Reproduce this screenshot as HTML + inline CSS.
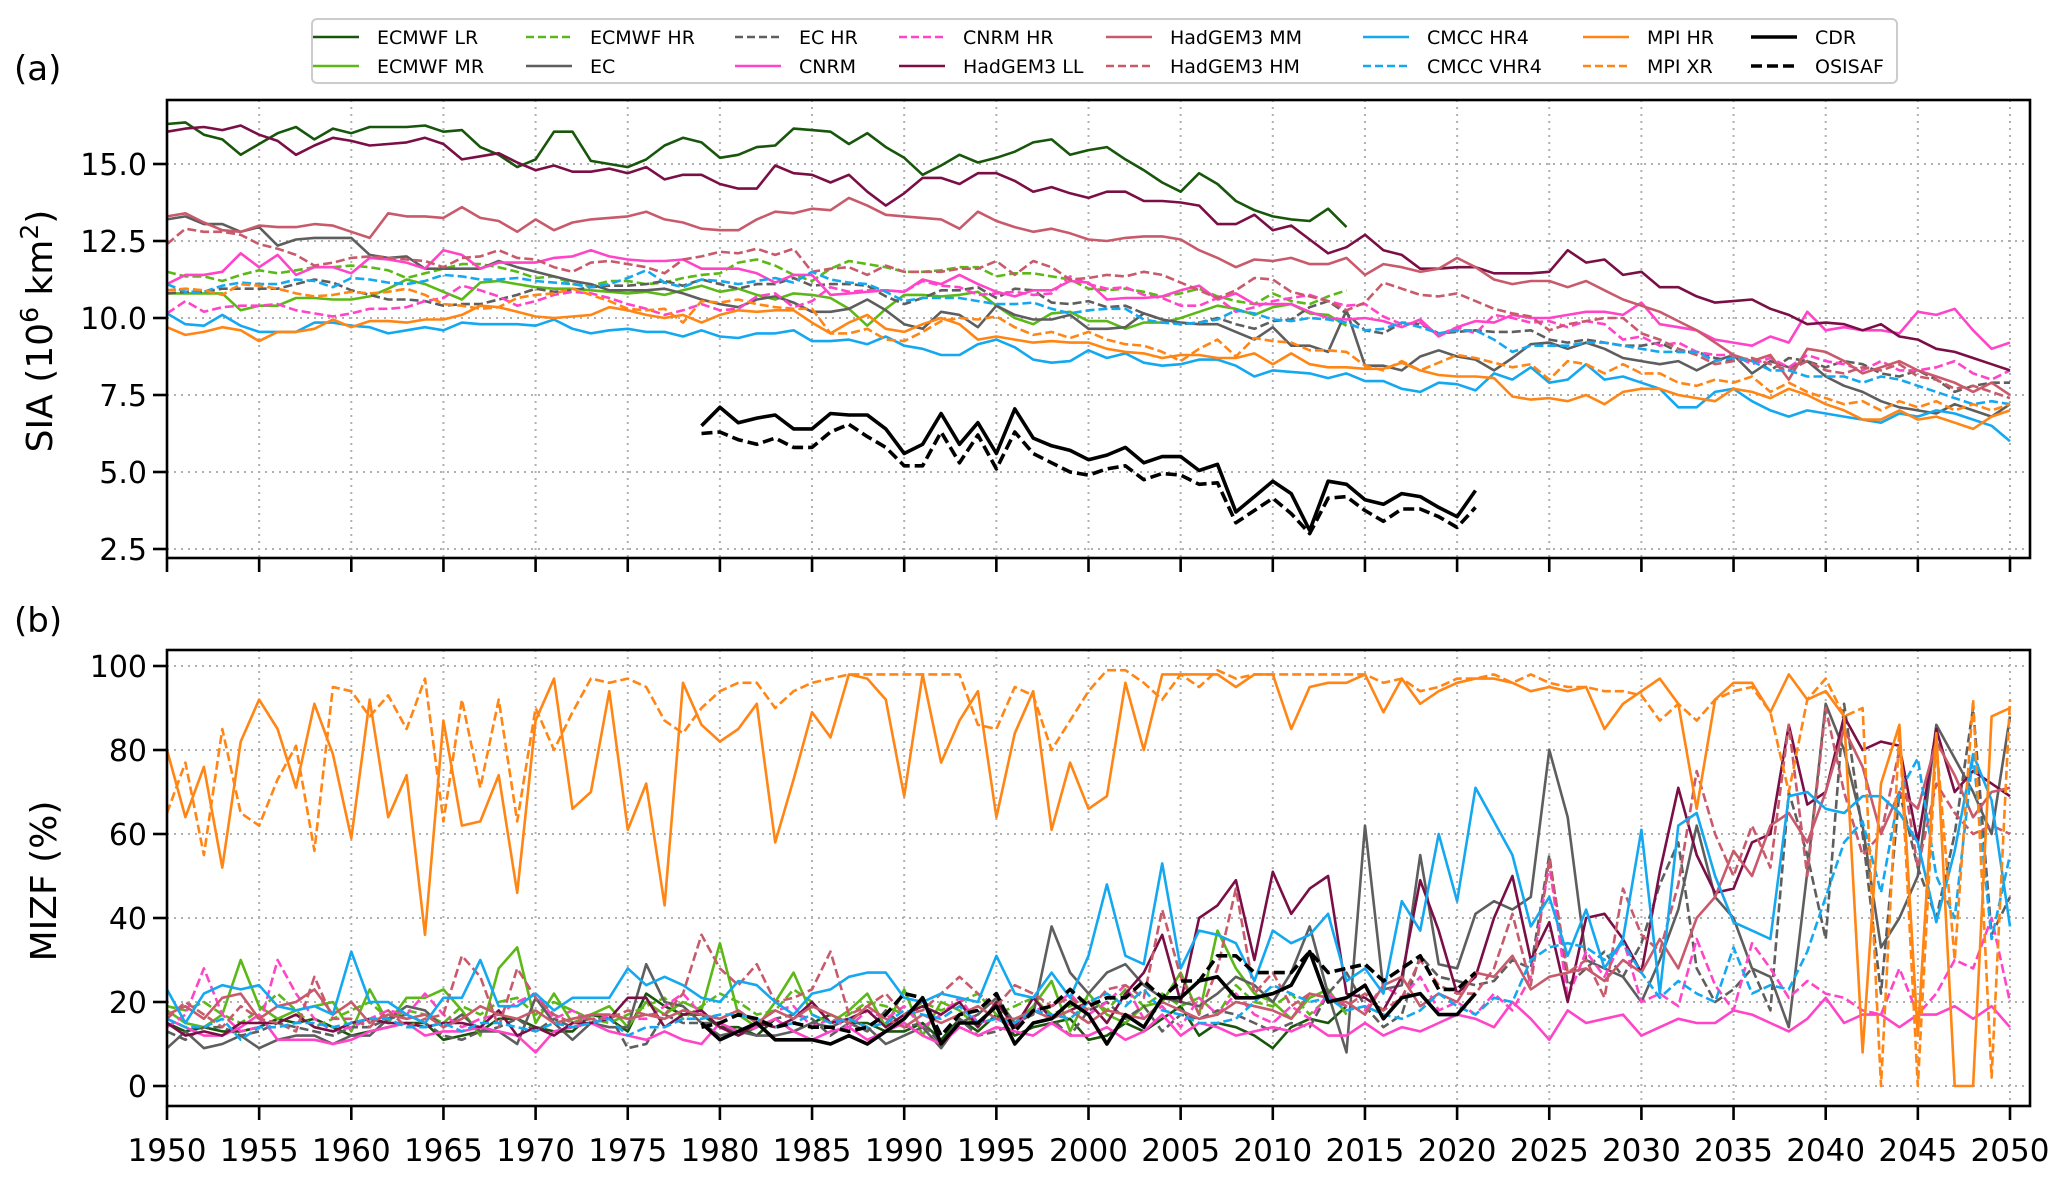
<!DOCTYPE html>
<html><head><meta charset="utf-8"><style>
html,body{margin:0;padding:0;background:#fff}
svg{display:block;font-family:"DejaVu Sans","Liberation Sans",sans-serif}
</style></head><body>
<svg id="chart" width="2067" height="1179" viewBox="0 0 2067 1179" xmlns="http://www.w3.org/2000/svg">
<defs>
<clipPath id="clipA"><rect x="167" y="100" width="1863" height="458"/></clipPath>
<clipPath id="clipB"><rect x="167" y="650" width="1863" height="456"/></clipPath>
</defs>
<g id="gridA"></g>
<g id="gridB"></g>
<g id="linesA" clip-path="url(#clipA)"></g>
<g id="linesB" clip-path="url(#clipB)"></g>
<g id="axes"></g>
<text x="14" y="80" font-size="34">(a)</text>
<text x="14" y="632" font-size="34">(b)</text>
<text transform="translate(52,331) rotate(-90)" text-anchor="middle" font-size="36">SIA (10<tspan dy="-14" font-size="25">6</tspan><tspan dy="14"> km</tspan><tspan dy="-14" font-size="25">2</tspan><tspan dy="14">)</tspan></text>
<text transform="translate(56,881) rotate(-90)" text-anchor="middle" font-size="36">MIZF (%)</text>
<g id="legend"></g>
</svg>
<script>
// ---------- data ----------
const years0 = 1950;
const xTicks = [1950,1955,1960,1965,1970,1975,1980,1985,1990,1995,2000,2005,2010,2015,2020,2025,2030,2035,2040,2045,2050];
const yTicksA = [2.5,5.0,7.5,10.0,12.5,15.0];
const yTicksB = [0,20,40,60,80,100];

const seriesNames = ["ECMWF LR","ECMWF MR","ECMWF HR","EC","EC HR","CNRM","CNRM HR","HadGEM3 LL","HadGEM3 MM","HadGEM3 HM","CMCC HR4","CMCC VHR4","MPI HR","MPI XR","CDR","OSISAF"];
const seriesStart = [1950,1950,1950,1950,1950,1950,1950,1950,1950,1950,1950,1950,1950,1950,1979,1979];

const siaEcmwfLR = [16.3,16.35,15.95,15.8,15.3,15.65,16.0,16.2,15.8,16.15,16.0,16.2,16.2,16.2,16.25,16.05,16.1,15.55,15.3,14.9,15.15,16.05,16.05,15.1,15.0,14.9,15.15,15.6,15.85,15.7,15.2,15.3,15.55,15.6,16.15,16.1,16.05,15.65,16.0,15.55,15.2,14.65,14.95,15.3,15.05,15.2,15.4,15.7,15.8,15.3,15.45,15.55,15.15,14.8,14.4,14.1,14.7,14.35,13.8,13.5,13.3,13.2,13.15,13.55,12.95];
const siaEcmwfMR = [10.8,10.8,10.8,10.8,10.25,10.4,10.4,10.65,10.65,10.6,10.6,10.7,10.95,11.25,11.1,10.85,10.6,11.15,11.2,11.1,11.0,10.95,10.95,10.9,10.85,10.8,10.85,10.75,10.9,11.05,10.85,10.95,10.75,10.6,10.8,10.75,10.65,10.3,9.75,10.3,10.75,10.75,10.7,10.75,10.85,10.4,10.0,9.8,10.15,10.2,9.9,9.9,9.65,9.85,9.85,10.0,10.2,10.4,10.3,10.1,10.35,10.45,10.15,10.1,9.75];
const siaEcmwfHR = [11.5,11.35,11.35,11.2,11.4,11.55,11.45,11.55,11.65,11.65,11.7,11.65,11.55,11.3,11.45,11.6,11.75,11.75,11.65,11.5,11.3,11.35,11.1,11.05,11.2,11.2,11.1,11.15,11.3,11.4,11.45,11.8,11.9,11.7,11.4,11.2,11.6,11.85,11.75,11.65,11.5,11.5,11.55,11.65,11.65,11.35,11.45,11.45,11.35,11.25,10.95,10.9,10.95,10.85,10.7,10.8,10.95,10.7,10.55,10.45,10.8,10.55,10.45,10.7,10.9];
const siaEC = [13.2,13.3,13.05,13.05,12.8,12.95,12.35,12.55,12.6,12.6,12.6,12.05,11.95,12.0,11.6,11.6,11.6,11.6,11.85,11.65,11.5,11.35,11.2,11.1,10.9,10.9,10.9,10.95,10.8,10.6,10.45,10.35,10.6,10.7,10.5,10.2,10.2,10.3,10.6,10.25,9.8,9.65,10.2,10.1,9.7,10.4,10.1,9.95,9.95,10.1,9.65,9.65,9.7,10.15,9.95,9.85,9.8,9.8,9.55,9.3,9.7,9.1,9.1,8.9,10.25,8.45,8.45,8.3,8.75,8.95,8.75,8.65,8.3,8.7,9.15,9.2,9.0,9.2,9.0,8.7,8.6,8.5,8.6,8.3,8.6,8.8,8.2,8.6,8.4,8.6,8.1,7.8,7.6,7.3,7.1,7.0,6.9,7.2,7.0,6.8,7.2];
const siaEcHR = [10.8,10.85,10.85,10.95,10.95,10.95,10.95,11.1,11.25,11.15,10.9,10.75,10.6,10.6,10.55,10.4,10.45,10.45,10.6,10.75,10.95,10.85,10.9,11.0,11.05,11.05,11.1,11.2,11.05,11.25,11.1,10.95,11.1,11.1,11.3,11.05,11.1,11.1,11.05,10.7,10.45,10.65,10.9,10.9,11.0,10.65,10.95,10.9,10.5,10.45,10.55,10.35,10.4,10.15,9.95,9.8,9.85,10.0,9.8,9.65,9.9,9.95,10.35,10.55,10.15,9.6,9.5,9.85,9.8,9.5,9.55,9.6,9.55,9.55,9.6,9.3,9.2,9.3,9.2,9.1,9.1,9.2,8.9,8.9,8.7,8.6,8.7,8.3,8.7,8.6,8.4,8.6,8.5,8.2,8.1,8.3,8.0,7.6,7.8,7.9,7.9];
const siaCNRM = [11.1,11.4,11.4,11.5,12.1,11.65,12.05,11.4,11.65,11.65,11.45,11.95,11.9,11.8,11.6,12.2,12.05,11.6,11.8,11.8,11.8,11.95,12.0,12.2,12.0,11.9,11.85,11.85,11.9,11.6,11.6,11.6,11.45,11.15,11.4,11.4,10.75,10.8,10.85,10.9,10.85,11.25,11.1,11.4,11.1,10.85,10.7,10.9,10.9,11.2,11.15,10.6,10.65,10.65,10.7,10.9,11.05,10.6,10.8,10.45,10.45,10.45,10.2,10.0,9.95,10.0,9.9,9.7,9.95,9.4,9.7,9.9,9.85,10.1,10.0,10.0,10.1,10.2,10.2,10.1,10.5,9.8,9.7,9.6,9.3,9.2,9.1,9.4,9.2,10.2,9.6,9.7,9.6,9.6,9.5,10.2,10.1,10.3,9.6,9.0,9.2];
const siaCnrmHR = [10.15,10.55,10.2,10.35,10.4,10.4,10.45,10.25,10.15,10.05,10.15,10.3,10.3,10.35,10.55,10.65,11.05,10.9,10.7,10.4,10.55,10.75,10.85,10.8,10.65,10.45,10.3,10.1,10.25,10.45,10.25,10.3,10.7,10.8,10.35,10.55,11.0,10.85,10.9,10.9,10.85,11.2,11.05,11.0,10.75,10.8,10.85,10.75,10.8,11.35,11.1,10.95,11.0,10.75,10.65,10.4,10.4,10.65,10.2,10.35,10.55,10.65,10.75,10.55,10.4,10.45,10.05,9.8,9.85,9.45,9.7,9.5,10.1,10.0,9.85,9.9,9.7,9.9,9.8,9.3,9.4,9.1,9.2,8.9,8.8,8.8,8.5,8.7,8.4,8.8,8.6,8.5,8.3,8.6,8.3,8.3,8.4,8.6,8.2,8.0,8.3];
const siaHadLL = [16.05,16.15,16.2,16.1,16.25,15.95,15.75,15.3,15.6,15.85,15.75,15.6,15.65,15.7,15.85,15.65,15.15,15.25,15.35,15.05,14.8,14.95,14.75,14.75,14.85,14.7,14.9,14.5,14.65,14.65,14.35,14.2,14.2,14.95,14.7,14.65,14.4,14.65,14.1,13.65,14.05,14.55,14.55,14.35,14.7,14.7,14.45,14.1,14.25,14.05,13.9,14.1,14.1,13.8,13.8,13.75,13.65,13.05,13.05,13.35,12.85,13.0,12.55,12.1,12.3,12.7,12.2,12.05,11.6,11.6,11.65,11.65,11.45,11.45,11.45,11.5,12.2,11.8,11.9,11.4,11.5,11.0,11.0,10.7,10.5,10.55,10.6,10.3,10.1,9.8,9.85,9.8,9.6,9.8,9.4,9.3,9.0,8.9,8.7,8.5,8.3];
const siaHadMM = [13.3,13.4,13.1,12.85,12.8,13.0,12.95,12.95,13.05,13.0,12.8,12.6,13.4,13.3,13.3,13.25,13.6,13.25,13.15,12.8,13.2,12.85,13.1,13.2,13.25,13.3,13.45,13.2,13.1,12.9,12.85,12.85,13.2,13.45,13.4,13.55,13.5,13.9,13.65,13.35,13.3,13.25,13.2,12.9,13.45,13.15,12.95,12.8,12.9,12.75,12.55,12.5,12.6,12.65,12.65,12.55,12.2,11.95,11.65,11.9,11.85,11.95,11.75,11.75,11.95,11.4,11.75,11.65,11.5,11.6,11.95,11.65,11.25,11.1,11.2,11.2,11.0,11.2,10.9,10.6,10.4,10.2,9.9,9.6,9.2,8.8,8.6,8.8,8.0,9.0,8.9,8.6,8.2,8.4,8.6,8.3,8.1,7.9,7.6,7.9,7.5];
const siaHadHM = [12.4,12.9,12.8,12.8,12.7,12.4,12.25,12.05,11.7,11.8,11.95,12.0,11.95,11.9,11.85,11.65,11.95,12.0,12.2,11.95,11.9,11.65,11.5,11.8,11.85,11.75,11.65,11.45,11.9,12.0,12.15,12.1,12.25,12.05,12.25,11.5,11.6,11.65,11.4,11.7,11.5,11.5,11.5,11.6,11.6,11.85,11.4,11.85,11.65,11.25,11.3,11.4,11.35,11.5,11.4,11.15,10.9,10.65,10.9,11.3,11.25,10.85,10.7,10.55,10.25,10.5,11.15,10.95,10.75,10.7,10.8,10.55,10.3,10.15,10.05,9.6,9.8,9.9,10.0,10.0,9.5,9.3,9.0,8.8,8.5,8.6,8.7,8.5,8.3,8.6,8.3,8.2,8.4,8.3,8.5,8.1,8.0,7.7,7.8,7.6,7.4];
const siaCmccHR4 = [10.15,9.8,9.75,10.1,9.75,9.55,9.55,9.55,9.85,9.85,9.75,9.7,9.5,9.6,9.7,9.6,9.85,9.8,9.8,9.8,9.75,9.95,9.65,9.5,9.6,9.65,9.55,9.55,9.4,9.6,9.4,9.35,9.5,9.5,9.6,9.25,9.25,9.3,9.15,9.4,9.1,9.0,8.8,8.8,9.15,9.3,9.05,8.65,8.55,8.6,8.95,8.7,8.85,8.55,8.45,8.5,8.65,8.65,8.45,8.1,8.3,8.25,8.2,8.05,8.2,7.95,7.95,7.7,7.6,7.9,7.85,7.65,8.2,8.0,8.4,7.9,8.0,8.5,8.0,8.1,7.9,7.7,7.1,7.1,7.6,7.7,7.3,7.0,6.8,7.0,6.9,6.8,6.7,6.6,6.9,6.8,7.0,6.9,6.7,6.5,6.0];
const siaCmccVHR4 = [11.1,10.85,10.85,11.05,11.15,11.1,11.1,11.25,11.2,11.0,11.3,11.25,11.15,11.1,11.2,11.4,11.35,11.25,11.25,11.3,11.2,11.15,11.1,11.0,11.1,11.3,11.55,11.15,11.0,11.25,11.2,11.1,11.2,11.3,11.15,11.5,11.25,11.15,11.1,10.85,10.55,10.65,10.65,10.65,10.55,10.45,10.45,10.5,10.3,10.15,10.25,10.3,10.3,9.95,9.85,9.8,9.85,9.95,10.25,10.15,9.95,9.9,10.0,9.95,9.85,9.6,9.65,9.85,9.7,9.5,9.6,9.6,9.3,8.9,9.1,9.1,9.1,9.2,9.2,9.1,9.0,8.9,8.9,8.9,8.6,8.7,8.6,8.3,8.3,8.1,8.1,8.1,7.9,8.1,8.0,7.8,7.6,7.4,7.2,7.3,7.2];
const siaMpiHR = [9.7,9.45,9.55,9.7,9.6,9.25,9.55,9.55,9.65,9.95,9.7,9.9,9.9,9.85,9.95,9.95,10.1,10.4,10.35,10.2,10.05,10.0,10.05,10.1,10.35,10.25,10.1,10.0,10.1,9.85,10.1,10.25,10.2,10.25,10.25,9.85,9.5,9.85,10.1,9.65,9.55,9.8,10.0,9.8,9.3,9.4,9.3,9.2,9.25,9.2,9.2,9.0,8.9,8.85,8.7,8.8,8.8,8.7,8.7,8.85,8.5,8.85,8.5,8.4,8.4,8.35,8.35,8.55,8.3,8.15,8.1,8.1,8.05,7.45,7.35,7.4,7.3,7.5,7.2,7.6,7.7,7.7,7.5,7.4,7.3,7.7,7.6,7.4,7.7,7.5,7.2,7.0,6.7,6.7,7.0,6.7,6.8,6.6,6.4,6.8,7.0];
const siaMpiXR = [10.9,10.95,10.9,10.75,11.1,11.05,10.95,10.8,10.7,10.75,10.85,10.8,10.85,10.95,10.75,10.45,10.4,10.3,10.35,10.65,10.75,10.8,10.95,10.75,10.55,10.3,10.25,10.3,9.85,10.55,10.5,10.6,10.45,10.35,10.3,10.3,9.5,9.5,9.65,9.3,9.25,9.55,9.9,10.0,9.95,10.05,9.7,9.45,9.55,9.35,9.55,9.3,9.15,9.1,8.9,8.6,9.0,9.3,8.75,9.35,9.25,9.2,8.95,8.95,8.9,8.45,8.3,8.6,8.3,8.55,8.8,8.7,8.55,8.4,8.5,8.0,8.6,8.5,8.2,8.5,8.2,8.2,7.9,7.8,8.0,7.9,8.1,7.6,7.9,7.6,7.4,7.2,7.3,7.0,7.3,7.1,7.3,7.0,7.2,7.0,7.2];
const siaCDR = [6.5,7.1,6.6,6.75,6.85,6.4,6.4,6.9,6.85,6.85,6.4,5.6,5.9,6.9,5.9,6.6,5.6,7.05,6.1,5.85,5.7,5.4,5.55,5.8,5.3,5.5,5.5,5.05,5.25,3.7,4.2,4.7,4.3,3.1,4.7,4.6,4.1,3.95,4.3,4.2,3.85,3.55,4.4];
const siaOSISAF = [6.25,6.3,6.05,5.9,6.1,5.8,5.8,6.3,6.55,6.15,5.8,5.2,5.2,6.3,5.3,6.2,5.1,6.3,5.6,5.3,5.0,4.9,5.1,5.2,4.75,4.95,4.9,4.6,4.65,3.35,3.75,4.15,3.65,3.0,4.15,4.2,3.75,3.4,3.8,3.8,3.55,3.2,3.85];

const mizfEcmwfLR = [15,13,14,13,13,14,16,15,16,14,12,13,14,15,15,11,12,13,16,16,14,13,13,17,16,13,22,19,17,17,14,14,12,16,13,15,17,15,15,13,13,15,11,16,13,17,12,14,15,16,11,12,15,13,16,19,12,15,14,12,9,14,16,15,19];
const mizfEcmwfMR = [18,15,14,17,30,19,16,18,19,20,13,23,15,21,21,23,18,12,28,33,15,22,15,17,19,14,20,17,20,18,34,17,14,20,27,17,15,18,22,14,23,12,20,18,14,20,15,19,25,13,22,17,15,19,20,27,17,37,28,22,20,16,21,23,17];
const mizfEcmwfHR = [19,18,20,17,15,18,22,18,14,16,18,20,16,18,17,15,19,17,20,21,17,20,18,16,15,17,19,21,16,19,22,20,17,18,23,20,15,17,20,19,17,20,18,20,22,17,19,21,17,19,21,18,23,19,22,19,21,17,24,20,19,22,17,21,19];
const mizfEC = [9,13,9,10,12,9,11,12,12,10,12,12,16,19,18,14,17,13,13,10,21,15,11,15,14,14,29,20,19,15,12,13,12,12,13,15,14,16,14,10,12,14,9,15,17,21,15,17,38,27,22,27,29,24,21,20,19,22,26,24,20,27,38,22,8,62,23,24,55,29,28,41,44,42,45,80,64,30,28,26,20,30,42,62,45,40,28,26,14,51,91,80,62,33,40,50,86,78,70,60,88];
const mizfEcHR = [13,11,14,14,12,13,15,14,13,12,14,14,16,17,15,12,11,13,14,16,13,16,14,15,17,9,10,17,15,15,15,12,14,16,17,16,12,15,13,18,14,15,10,16,12,13,15,18,16,12,18,20,16,19,13,17,16,18,17,15,13,15,14,22,27,19,14,17,31,26,25,24,25,30,28,55,24,28,32,26,34,48,58,28,20,23,28,18,70,55,35,91,60,22,70,52,40,60,90,36,45];
const mizfCNRM = [16,14,12,12,14,17,11,11,11,10,11,13,14,15,12,13,13,14,13,12,8,13,14,15,13,12,11,13,11,10,15,13,14,16,13,11,13,14,11,13,15,12,10,14,12,14,13,12,15,12,12,14,11,13,17,12,15,14,12,13,14,13,15,12,12,15,12,14,13,15,17,16,14,20,16,11,18,15,16,17,12,14,16,15,15,18,17,15,13,16,21,15,17,17,14,17,17,19,16,19,14];
const mizfCnrmHR = [14,17,28,17,13,14,30,22,16,13,14,16,18,17,22,17,14,16,17,20,22,16,18,15,17,16,16,19,22,17,16,18,15,18,19,14,16,14,18,16,19,14,17,21,15,16,14,18,19,22,17,20,24,16,19,14,21,17,22,17,15,19,16,22,19,18,24,21,26,18,20,17,22,18,26,53,21,32,26,35,20,22,19,35,24,18,34,28,21,25,22,21,18,17,28,17,22,30,28,40,20];
const mizfHadLL = [15,12,13,12,15,15,15,17,14,13,15,16,15,15,14,15,15,14,18,12,14,12,15,15,16,21,21,14,17,18,14,12,15,14,16,20,15,16,18,14,17,19,17,20,14,20,14,21,16,18,20,15,22,27,36,20,40,43,49,30,51,41,47,50,22,21,18,26,49,37,22,26,40,50,30,39,20,40,41,35,27,51,71,55,46,47,58,60,86,67,70,88,80,82,81,58,85,70,75,72,69];
const mizfHadMM = [17,19,16,21,22,16,19,20,23,17,20,15,17,16,17,14,16,19,17,16,18,15,16,17,17,16,17,16,18,17,16,18,15,18,16,19,17,15,19,16,14,17,15,17,19,16,16,18,16,18,15,18,17,16,20,18,16,17,20,19,18,16,22,21,20,17,24,26,19,22,20,27,26,31,23,26,27,28,25,30,27,35,28,40,45,56,50,62,65,58,70,85,76,60,70,66,82,74,64,70,71];
const mizfHadHM = [16,20,17,14,19,16,15,13,26,16,16,14,18,14,16,17,31,26,14,28,21,17,15,16,16,18,17,17,22,36,28,24,29,20,21,23,32,17,19,22,17,18,22,26,22,19,24,22,19,21,18,23,24,21,42,26,17,28,47,22,27,19,22,21,19,22,18,21,30,24,22,22,28,41,24,54,27,30,21,47,36,32,48,75,60,50,62,52,86,50,90,70,55,60,80,52,72,65,60,62,60];
const mizfCmccHR4 = [23,15,22,24,23,24,19,18,19,17,32,20,20,17,15,21,21,30,19,19,22,18,21,21,21,28,24,26,24,21,20,25,24,20,17,22,23,26,27,27,21,20,22,21,20,31,22,21,27,21,31,48,31,29,53,28,37,36,34,25,37,34,36,41,25,28,22,44,37,60,44,71,63,55,38,45,31,42,28,35,61,22,62,65,50,39,37,35,69,70,66,65,69,69,65,58,39,56,79,68,38];
const mizfCmccVHR4 = [16,14,14,16,11,14,14,15,15,14,15,16,16,14,14,15,13,15,15,14,13,15,14,15,16,12,14,14,16,16,17,17,16,14,15,17,15,16,14,15,18,17,16,19,15,16,15,18,17,16,20,22,19,23,18,17,15,15,16,20,24,22,20,21,18,19,17,16,18,22,19,17,21,20,30,33,34,33,30,34,27,21,25,22,20,33,22,24,23,32,45,58,63,46,70,78,50,40,79,35,55];
const mizfMpiHR = [80,64,76,52,82,92,85,71,91,79,59,92,64,74,36,87,62,63,74,46,87,97,66,70,94,61,72,43,96,86,82,85,91,58,73,89,83,98,97,92,69,98,77,87,94,64,84,94,61,77,66,69,96,80,98,98,98,98,95,98,98,85,95,96,96,98,89,97,91,94,96,97,97,96,94,95,94,95,85,91,94,97,91,66,92,96,96,89,98,92,94,88,8,72,86,12,84,0,0,88,90];
const mizfMpiXR = [65,77,55,85,65,62,73,81,56,95,94,88,93,85,97,63,92,71,92,63,90,80,89,97,96,97,95,87,84,90,94,96,96,90,94,96,97,98,98,98,98,98,98,98,86,85,95,93,80,87,94,99,99,96,92,98,95,99,97,98,98,98,98,98,98,98,96,97,94,95,97,97,98,96,98,96,95,95,94,94,93,87,91,87,92,94,95,89,70,92,97,88,90,0,85,0,82,30,92,2,92];
const mizfCDR = [15,11,13,15,11,11,11,10,12,10,13,16,21,10,15,15,19,10,15,16,20,17,10,17,14,21,21,25,26,21,21,22,24,32,20,21,24,16,21,22,17,17,22];
const mizfOSISAF = [14,15,17,16,14,15,14,14,13,14,17,22,21,12,17,18,22,13,18,19,23,19,21,21,25,21,25,25,31,31,27,27,27,32,27,28,29,25,28,31,23,23,27];

const siaData = [siaEcmwfLR,siaEcmwfMR,siaEcmwfHR,siaEC,siaEcHR,siaCNRM,siaCnrmHR,siaHadLL,siaHadMM,siaHadHM,siaCmccHR4,siaCmccVHR4,siaMpiHR,siaMpiXR,siaCDR,siaOSISAF];
const mizfData = [mizfEcmwfLR,mizfEcmwfMR,mizfEcmwfHR,mizfEC,mizfEcHR,mizfCNRM,mizfCnrmHR,mizfHadLL,mizfHadMM,mizfHadHM,mizfCmccHR4,mizfCmccVHR4,mizfMpiHR,mizfMpiXR,mizfCDR,mizfOSISAF];

// ---------- styles ----------
const colors = ["#17560b","#5bb817","#5bb817","#5e5e5e","#5e5e5e","#ff44c8","#ff44c8","#7a0f46","#c85a6b","#c85a6b","#14a8f0","#14a8f0","#ff8515","#ff8515","#000000","#000000"];
const dashed = [false,false,true,false,true,false,true,false,false,true,false,true,false,true,false,true];
const widths = [2.6,2.6,2.6,2.6,2.6,2.6,2.6,2.6,2.6,2.6,2.6,2.6,2.6,2.6,3.6,3.6];

const NS = "http://www.w3.org/2000/svg";
const X0 = 167, X1 = 2010, LEFT = 167, RIGHT = 2030;
function xScale(yr){ return X0 + (yr - 1950) * (X1 - X0) / 100; }
function yA(v){ return 164 + (15 - v) * 30.8; }
function yB(v){ return 1086 - v * 4.2; }
function mk(tag, attrs, parent){ const e = document.createElementNS(NS, tag); for (const k in attrs) e.setAttribute(k, attrs[k]); parent.appendChild(e); return e; }

const gridA = document.getElementById('gridA'), gridB = document.getElementById('gridB');
const axes = document.getElementById('axes');
const panels = [{top:100,bot:558,grid:gridA,ticks:yTicksA,ys:yA,fmt:v=>v.toFixed(1),n:'a'},{top:650,bot:1106,grid:gridB,ticks:yTicksB,ys:yB,fmt:v=>String(v),n:'b'}];
panels.forEach(p=>{
  xTicks.forEach(t=>{
    const gl = mk('line',{x1:xScale(t),x2:xScale(t),y1:p.top,y2:p.bot,stroke:'#b0b0b0','stroke-width':2,'stroke-dasharray':'2,5'},p.grid);
    
    
    const tk = mk('line',{x1:xScale(t),x2:xScale(t),y1:p.bot,y2:p.bot+14,stroke:'#000','stroke-width':2.6},axes);
    
    
  });
  p.ticks.forEach(t=>{
    const y = p.ys(t);
    const gl = mk('line',{x1:LEFT,x2:RIGHT,y1:y,y2:y,stroke:'#b0b0b0','stroke-width':2,'stroke-dasharray':'2,5'},p.grid);
    
    
    const tk = mk('line',{x1:LEFT-14,x2:LEFT,y1:y,y2:y,stroke:'#000','stroke-width':2.6},axes);
    
    
    const tl = mk('text',{x:LEFT-20,y:y+11,'text-anchor':'end','font-size':30},axes);
    
    
    tl.textContent = p.fmt(t);
  });
  const box = mk('rect',{x:LEFT,y:p.top,width:RIGHT-LEFT,height:p.bot-p.top,fill:'none',stroke:'#000','stroke-width':2.6},axes);
  
  
});
xTicks.forEach(t=>{
  const tl = mk('text',{x:xScale(t),y:1161,'text-anchor':'middle','font-size':31},axes);
  
  
  tl.textContent = String(t);
});

function drawSeries(group, data, ys, i){
  const pts = data.map((v,k)=> xScale(seriesStart[i]+k).toFixed(1)+','+ys(v).toFixed(1)).join(' ');
  const pl = mk('polyline',{points:pts,fill:'none',stroke:colors[i],'stroke-width':widths[i],'stroke-linejoin':'round'},group);
  if (dashed[i]) pl.setAttribute('stroke-dasharray', i>=14 ? '11,5' : '9,4');
  
  
}
const linesA = document.getElementById('linesA'), linesB = document.getElementById('linesB');
for (let i=0;i<seriesNames.length;i++){ drawSeries(linesA, siaData[i], yA, i); drawSeries(linesB, mizfData[i], yB, i); }

// ---------- legend ----------
const legend = document.getElementById('legend');
const lb = mk('rect',{x:312,y:19,width:1585,height:64,rx:5,fill:'#fff',stroke:'#cccccc','stroke-width':2},legend);


const legendOrder = [0,2,4,6,8,10,12,14, 1,3,5,7,9,11,13,15];
const colText = [377,590,799,963,1170,1427,1647,1815];
legendOrder.forEach((si,k)=>{
  const col = k % 8, row = Math.floor(k / 8);
  const cy = row ? 66 : 37;
  const tx = colText[col];
  const g = mk('g',{},legend);
  
  
  const ln = mk('line',{x1:tx-64,x2:tx-18,y1:cy,y2:cy,stroke:colors[si],'stroke-width':si>=14?3.6:2.6},g);
  if (dashed[si]) ln.setAttribute('stroke-dasharray', si>=14 ? '11,5' : '8,4');
  const t = mk('text',{x:tx,y:cy+7,'font-size':19},g);
  t.textContent = seriesNames[si];
});
</script>
</body></html>
